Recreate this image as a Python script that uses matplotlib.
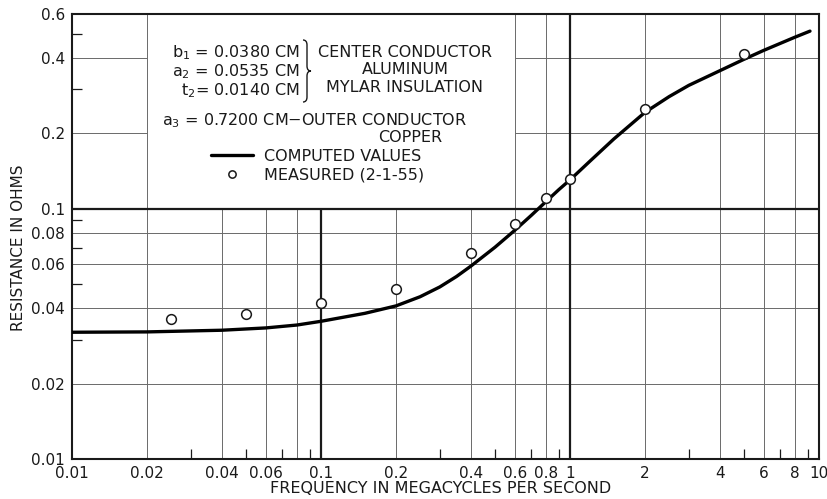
import matplotlib.pyplot as plt
from matplotlib.path import Path
from matplotlib.patches import PathPatch
from matplotlib.transforms import Affine2D

# computed resistance curve (MC, ohms)
freq_calc = [0.01, 0.02, 0.04, 0.06, 0.08, 0.1, 0.15, 0.2, 0.25, 0.3, 0.35,
             0.4, 0.5, 0.6, 0.7, 0.8, 0.9, 1.0, 1.2, 1.5, 2.0, 2.5, 3.0, 4.0,
             5.0, 6.0, 8.0, 9.2]
res_calc = [0.0321, 0.0322, 0.0327, 0.0334, 0.0343, 0.0355, 0.0382, 0.0409,
            0.0445, 0.0487, 0.0536, 0.0590, 0.0702, 0.0820, 0.0942, 0.1067,
            0.1190, 0.1304, 0.1546, 0.190, 0.2427, 0.2805, 0.3112, 0.3562,
            0.3956, 0.4294, 0.4846, 0.5125]

# measured 2-1-55
freq_meas = [0.025, 0.05, 0.1, 0.2, 0.4, 0.6, 0.8, 1.0, 2.0, 5.0]
res_meas = [0.0364, 0.0381, 0.0419, 0.0478, 0.0666, 0.0867, 0.110, 0.132, 0.250, 0.416]

x_ticks = [0.01, 0.02, 0.04, 0.06, 0.1, 0.2, 0.4, 0.6, 0.8, 1, 2, 4, 6, 8, 10]
x_labels = ['0.01', '0.02', '0.04', '0.06', '0.1', '0.2', '0.4', '0.6', '0.8',
            '1', '2', '4', '6', '8', '10']
y_ticks = [0.01, 0.02, 0.04, 0.06, 0.08, 0.1, 0.2, 0.4, 0.6]
y_labels = ['0.01', '0.02', '0.04', '0.06', '0.08', '0.1', '0.2', '0.4', '0.6']
x_minor = [0.03, 0.05, 0.07, 0.09, 0.3, 0.5, 0.7, 0.9, 3, 5, 7, 9]
y_minor = [0.03, 0.05, 0.07, 0.09, 0.3, 0.5]

x_grid = [0.02, 0.04, 0.06, 0.08, 0.2, 0.4, 0.6, 0.8, 2, 4, 6, 8]
y_grid = [0.02, 0.04, 0.06, 0.08, 0.2, 0.4]

INK = '#1a1a1a'
GRID = '#6a6a6a'
W, H = 828, 499

fig = plt.figure(figsize=(W / 100, H / 100), dpi=100)
ax = fig.add_axes([72 / W, 1 - 459 / H, (819 - 72) / W, (459 - 14) / H])
px = Affine2D().scale(1 / W, -1 / H).translate(0, 1) + fig.transFigure

ax.set_xscale('log')
ax.set_yscale('log')
ax.set_xlim(0.01, 10)
ax.set_ylim(0.01, 0.6)

# grid, left open where the notes sit (0.02..0.6, above 0.1)
for xv in x_grid:
    top = 0.1 if 0.02 < xv < 0.6 else 0.6
    ax.vlines(xv, 0.01, top, color=GRID, lw=0.7, zorder=1)
for yv in y_grid:
    if yv > 0.1:
        ax.hlines(yv, 0.01, 0.02, color=GRID, lw=0.7, zorder=1)
        ax.hlines(yv, 0.6, 10, color=GRID, lw=0.7, zorder=1)
    else:
        ax.hlines(yv, 0.01, 10, color=GRID, lw=0.7, zorder=1)
ax.vlines(0.1, 0.01, 0.1, color=INK, lw=1.6, zorder=1.5)
ax.vlines(1, 0.01, 0.6, color=INK, lw=1.6, zorder=1.5)
ax.hlines(0.1, 0.01, 10, color=INK, lw=1.6, zorder=1.5)

ax.plot(freq_calc, res_calc, color='black', lw=2.4, solid_capstyle='round',
        solid_joinstyle='round', zorder=3, label='COMPUTED VALUES')
ax.plot(freq_meas, res_meas, ls='none', marker='o', ms=7, mfc='white',
        mec=INK, mew=1.1, zorder=4, label='MEASURED (2-1-55)')

ax.set_xticks(x_ticks)
ax.set_xticklabels(x_labels)
ax.set_yticks(y_ticks)
ax.set_yticklabels(y_labels)
ax.set_xticks(x_minor, minor=True)
ax.set_yticks(y_minor, minor=True)
ax.tick_params(which='major', length=0, labelsize=11, labelcolor=INK, pad=5)
ax.tick_params(which='minor', direction='in', length=7, width=0.9, color=INK)
for s in ax.spines.values():
    s.set_linewidth(1.5)
    s.set_color(INK)

ax.set_xlabel('FREQUENCY IN MEGACYCLES PER SECOND', fontsize=11.5, color=INK)
ax.set_ylabel('RESISTANCE IN OHMS', fontsize=11, color=INK)
ax.xaxis.set_label_coords(0.493, -0.05)
ax.yaxis.set_label_coords(-0.062, 0.475)

# cable dimensions
fs = 11.5
left_rows = [(r'b$_1$ = 0.0380 CM', 57), (r'a$_2$ = 0.0535 CM', 76),
             (r't$_2$= 0.0140 CM', 95)]
for txt, yb in left_rows:
    fig.text(300, yb, txt, transform=px, ha='right', va='baseline',
             fontsize=fs, color=INK)
right_rows = [('CENTER CONDUCTOR', 57), ('ALUMINUM', 74), ('MYLAR INSULATION', 92)]
for txt, yb in right_rows:
    fig.text(405, yb, txt, transform=px, ha='center', va='baseline',
             fontsize=fs, color=INK)
fig.text(162, 125, r'a$_3$ = 0.7200 CM$-$OUTER CONDUCTOR', transform=px,
         ha='left', va='baseline', fontsize=fs, color=INK)
fig.text(410, 142, 'COPPER', transform=px, ha='center', va='baseline',
         fontsize=fs, color=INK)

# brace grouping the first three dimensions
bx, bw, btop, bmid, bbot = 303, 8, 40, 71, 102
brace = Path([(bx, btop), (bx + bw / 2, btop), (bx + bw / 2, btop + 5),
              (bx + bw / 2, bmid - 5), (bx + bw / 2, bmid), (bx + bw, bmid),
              (bx + bw / 2, bmid), (bx + bw / 2, bmid + 5),
              (bx + bw / 2, bbot - 5), (bx + bw / 2, bbot), (bx, bbot)],
             [Path.MOVETO, Path.CURVE3, Path.CURVE3, Path.LINETO, Path.CURVE3,
              Path.CURVE3, Path.CURVE3, Path.CURVE3, Path.LINETO, Path.CURVE3,
              Path.CURVE3])
fig.patches.append(PathPatch(brace, transform=px, fill=False, lw=1.0, ec=INK))

ax.legend(loc='upper left', bbox_to_anchor=(211, 149), bbox_transform=px,
          frameon=False, fontsize=fs, handlelength=2.6, handletextpad=0.7,
          labelspacing=0.25, borderpad=0, borderaxespad=0, markerscale=0.75,
          labelcolor=INK)

fig.savefig('out.png', dpi=100)
